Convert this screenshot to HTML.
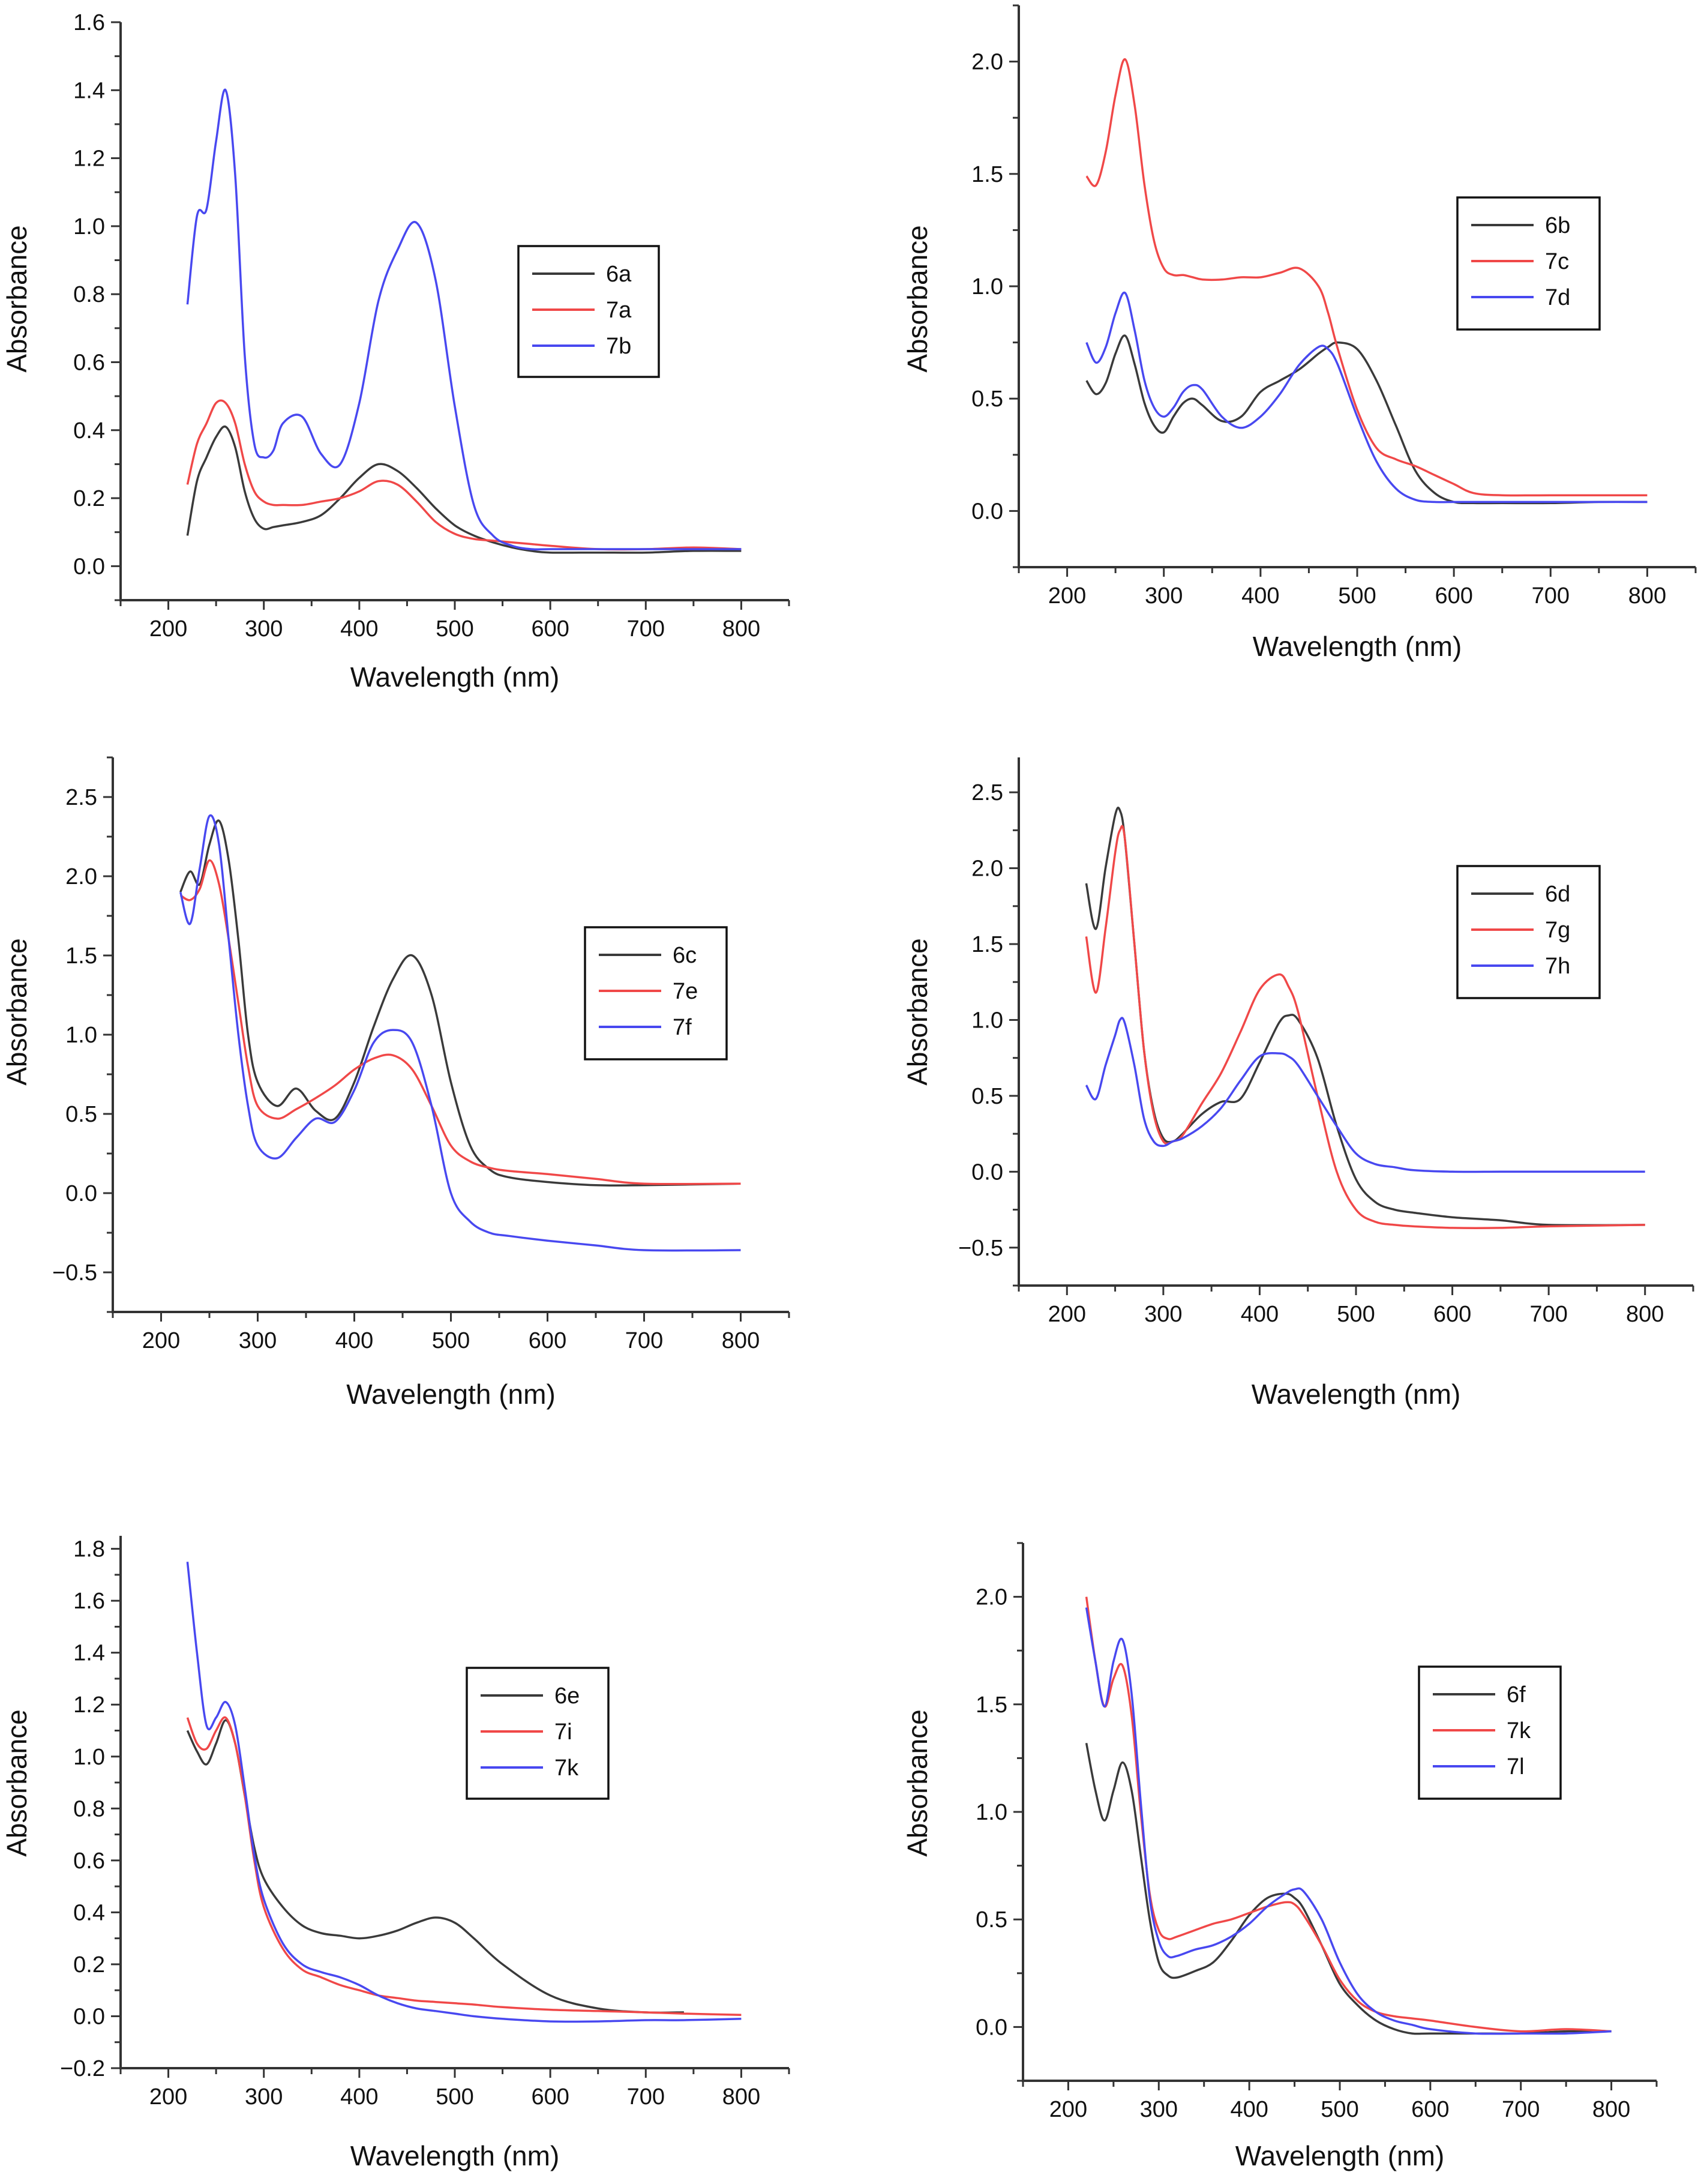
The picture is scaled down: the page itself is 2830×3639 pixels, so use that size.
<!DOCTYPE html>
<html><head><meta charset="utf-8"><style>
html,body{margin:0;padding:0;background:#fff;}
svg{display:block;font-family:"Liberation Sans",Arial,sans-serif;}
</style></head><body>
<svg id="fig" width="2830" height="3639" viewBox="0 0 2830 3639" xmlns="http://www.w3.org/2000/svg"></svg>
<script>
// ---- Panel A data ----
const wlA = [220,230,240,250,260,270,280,290,300,310,320,340,360,380,400,420,440,460,480,500,520,540,560,580,600,650,700,750,800];
const a6a = [0.09,0.25,0.32,0.38,0.41,0.35,0.22,0.14,0.11,0.115,0.12,0.13,0.15,0.2,0.26,0.3,0.28,0.23,0.17,0.12,0.09,0.07,0.055,0.045,0.04,0.04,0.04,0.045,0.045];
const a7a = [0.24,0.36,0.42,0.48,0.48,0.42,0.3,0.22,0.19,0.18,0.18,0.18,0.19,0.2,0.22,0.25,0.24,0.19,0.13,0.095,0.08,0.075,0.07,0.065,0.06,0.05,0.05,0.055,0.05];
const a7b = [0.77,1.03,1.05,1.25,1.40,1.15,0.62,0.36,0.32,0.34,0.42,0.44,0.33,0.30,0.48,0.78,0.93,1.01,0.84,0.47,0.18,0.09,0.06,0.05,0.05,0.05,0.05,0.05,0.05];
// ---- Panel B data ----
const wlB = [220,230,240,250,260,270,280,290,300,310,320,330,340,360,380,400,420,440,460,470,480,500,520,540,560,580,600,620,650,700,750,800];
const b6b = [0.58,0.52,0.57,0.70,0.78,0.65,0.48,0.38,0.35,0.42,0.48,0.50,0.47,0.40,0.42,0.53,0.58,0.63,0.70,0.73,0.75,0.72,0.58,0.38,0.18,0.08,0.04,0.035,0.035,0.035,0.04,0.04];
const b7c = [1.49,1.45,1.60,1.85,2.01,1.80,1.45,1.20,1.08,1.05,1.05,1.04,1.03,1.03,1.04,1.04,1.06,1.08,1.00,0.88,0.72,0.45,0.28,0.23,0.20,0.16,0.12,0.08,0.07,0.07,0.07,0.07];
const b7d = [0.75,0.66,0.73,0.88,0.97,0.80,0.58,0.46,0.42,0.46,0.53,0.56,0.54,0.42,0.37,0.42,0.52,0.65,0.73,0.72,0.65,0.42,0.22,0.1,0.05,0.04,0.04,0.04,0.04,0.04,0.04,0.04];
// ---- Panel C data ----
const wlC = [220,230,240,250,260,270,280,290,300,320,340,360,380,400,420,440,460,480,500,520,540,560,600,650,700,800];
const c6c = [1.9,2.03,1.95,2.2,2.35,2.1,1.6,1.0,0.7,0.55,0.66,0.52,0.47,0.7,1.05,1.35,1.5,1.25,0.7,0.3,0.15,0.1,0.07,0.05,0.05,0.06];
const c7e = [1.88,1.85,1.92,2.1,1.95,1.6,1.2,0.8,0.55,0.47,0.53,0.6,0.68,0.78,0.85,0.87,0.78,0.55,0.3,0.2,0.16,0.14,0.12,0.09,0.06,0.06];
const c7f = [1.9,1.7,2.05,2.38,2.2,1.6,1.0,0.55,0.3,0.22,0.35,0.47,0.45,0.65,0.95,1.03,0.95,0.55,0.0,-0.18,-0.25,-0.27,-0.3,-0.33,-0.36,-0.36];
// ---- Panel D data ----
const wlD = [220,230,240,250,255,260,270,280,290,300,310,320,340,360,380,400,420,430,440,460,480,500,520,540,560,600,650,700,800];
const d6d = [1.9,1.6,2.0,2.35,2.38,2.2,1.5,0.8,0.4,0.22,0.2,0.25,0.38,0.46,0.48,0.72,0.98,1.03,1.0,0.75,0.3,-0.05,-0.2,-0.25,-0.27,-0.3,-0.32,-0.35,-0.35];
const d7g = [1.55,1.18,1.6,2.1,2.25,2.2,1.5,0.8,0.38,0.2,0.2,0.24,0.45,0.65,0.92,1.2,1.3,1.22,1.05,0.5,0.0,-0.25,-0.33,-0.35,-0.36,-0.37,-0.37,-0.36,-0.35];
const d7h = [0.57,0.48,0.7,0.9,1.0,0.98,0.7,0.35,0.2,0.17,0.2,0.22,0.3,0.42,0.6,0.76,0.78,0.76,0.7,0.5,0.3,0.12,0.05,0.03,0.01,0.0,0.0,0.0,0.0];
// ---- Panel E data ----
const wlE = [220,230,240,250,260,270,280,290,300,320,340,360,380,400,420,440,460,480,500,520,550,600,650,700,740,800];
const e6e = [1.10,1.02,0.97,1.05,1.14,1.05,0.85,0.65,0.53,0.42,0.35,0.32,0.31,0.30,0.31,0.33,0.36,0.38,0.36,0.30,0.20,0.08,0.03,0.015,0.015,null];
const e7i = [1.15,1.05,1.03,1.10,1.15,1.05,0.85,0.6,0.42,0.26,0.18,0.15,0.12,0.10,0.08,0.07,0.06,0.055,0.05,0.045,0.035,0.025,0.02,0.015,0.01,0.005];
const e7k = [1.75,1.4,1.12,1.15,1.21,1.12,0.88,0.62,0.45,0.28,0.2,0.17,0.15,0.12,0.08,0.05,0.03,0.02,0.01,0.0,-0.01,-0.02,-0.02,-0.015,-0.015,-0.01];
// ---- Panel F data ----
const wlF = [220,230,240,250,260,270,280,290,300,310,320,340,360,380,400,420,440,450,460,480,500,520,540,560,580,600,650,700,750,800];
const f6f = [1.32,1.1,0.96,1.1,1.23,1.1,0.8,0.5,0.3,0.24,0.23,0.26,0.3,0.4,0.52,0.6,0.62,0.6,0.55,0.38,0.2,0.1,0.03,-0.01,-0.03,-0.03,-0.03,-0.03,-0.02,-0.02];
const f7k = [2.0,1.7,1.49,1.62,1.68,1.45,1.0,0.62,0.45,0.41,0.42,0.45,0.48,0.5,0.53,0.56,0.58,0.57,0.52,0.38,0.22,0.12,0.07,0.05,0.04,0.03,0.0,-0.02,-0.01,-0.02];
const f7l = [1.95,1.7,1.49,1.7,1.80,1.55,1.05,0.6,0.4,0.33,0.33,0.36,0.38,0.42,0.48,0.56,0.62,0.64,0.63,0.5,0.3,0.15,0.07,0.03,0.01,-0.01,-0.03,-0.03,-0.03,-0.02];
const xTickLabels = [200,300,400,500,600,700,800];

const NS="http://www.w3.org/2000/svg";
const svg=document.getElementById('fig');
const BLK="#3a3a3a", RED="#f04848", BLU="#4848f0";
function mk(tag,attrs,parent){const e=document.createElementNS(NS,tag);for(const k in attrs)e.setAttribute(k,attrs[k]);(parent||svg).appendChild(e);return e;}

const panels=[
 {id:'a',L:201,R:1315,T:37,B:1000,ymin:-0.1,ymax:1.6,yt:[0,0.2,0.4,0.6,0.8,1.0,1.2,1.4,1.6],ym:0.1,xt:1128,yx:28,wl:wlA,series:[['6a',a6a,BLK],['7a',a7a,RED],['7b',a7b,BLU]],lg:[864,410,234,218]},
 {id:'b',L:1698,R:2826,T:9,B:945,ymin:-0.25,ymax:2.25,yt:[0,0.5,1.0,1.5,2.0],ym:0.25,xt:1077,yx:1529,wl:wlB,series:[['6b',b6b,BLK],['7c',b7c,RED],['7d',b7d,BLU]],lg:[2429,329,237,220]},
 {id:'c',L:188,R:1315,T:1262,B:2186,ymin:-0.75,ymax:2.75,yt:[-0.5,0,0.5,1.0,1.5,2.0,2.5],ym:0.25,xt:2323,yx:28,wl:wlC,series:[['6c',c6c,BLK],['7e',c7e,RED],['7f',c7f,BLU]],lg:[975,1545,236,220]},
 {id:'d',L:1698,R:2822,T:1262,B:2142,ymin:-0.75,ymax:2.73,yt:[-0.5,0,0.5,1.0,1.5,2.0,2.5],ym:0.25,xt:2323,yx:1529,wl:wlD,series:[['6d',d6d,BLK],['7g',d7g,RED],['7h',d7h,BLU]],lg:[2429,1443,237,220]},
 {id:'e',L:201,R:1315,T:2559,B:3446,ymin:-0.2,ymax:1.85,yt:[-0.2,0,0.2,0.4,0.6,0.8,1.0,1.2,1.4,1.6,1.8],ym:0.1,xt:3592,yx:28,wl:wlE,series:[['6e',e6e,BLK],['7i',e7i,RED],['7k',e7k,BLU]],lg:[778,2779,236,218]},
 {id:'f',L:1705,R:2761,T:2571,B:3467,ymin:-0.25,ymax:2.25,yt:[0,0.5,1.0,1.5,2.0],ym:0.25,xt:3592,yx:1529,wl:wlF,series:[['6f',f6f,BLK],['7k',f7k,RED],['7l',f7l,BLU]],lg:[2365,2777,236,220]}
];

function fmtY(v){return v<0?'\u2212'+Math.abs(v).toFixed(1):v.toFixed(1);}

function smoothPath(pts){
  let d='M'+pts[0][0].toFixed(1)+','+pts[0][1].toFixed(1);
  for(let i=0;i<pts.length-1;i++){
    const p0=pts[i-1]||pts[i],p1=pts[i],p2=pts[i+1],p3=pts[i+2]||p2;
    const c1=[p1[0]+(p2[0]-p0[0])/6,p1[1]+(p2[1]-p0[1])/6];
    const c2=[p2[0]-(p3[0]-p1[0])/6,p2[1]-(p3[1]-p1[1])/6];
    d+=' C'+c1[0].toFixed(1)+','+c1[1].toFixed(1)+' '+c2[0].toFixed(1)+','+c2[1].toFixed(1)+' '+p2[0].toFixed(1)+','+p2[1].toFixed(1);
  }
  return d;
}

panels.forEach(p=>{
  const g=mk('g',{});
  
  
  const X=w=>p.L+(w-150)/(850-150)*(p.R-p.L);
  const Y=v=>p.B-(v-p.ymin)/(p.ymax-p.ymin)*(p.B-p.T);
  const ax=mk('path',{d:`M${p.L},${p.T} L${p.L},${p.B} L${p.R},${p.B}`,fill:'none',stroke:'#333','stroke-width':4},g);
  
  
  for(let w=150;w<=850;w+=50){
    const maj=(w%100===0)&&w>=200&&w<=800;
    mk('line',{x1:X(w),x2:X(w),y1:p.B,y2:p.B+(maj?16:10),stroke:'#333','stroke-width':3},g);
  }
  xTickLabels.forEach(w=>{
    const t=mk('text',{x:X(w),y:p.B+60,'text-anchor':'middle','font-size':38,fill:'#111'},g);
    t.textContent=w;
    
    
  });
  const n=Math.round((p.ymax-p.ymin)/p.ym);
  for(let i=0;i<=n+1;i++){
    const v=Math.ceil(p.ymin/p.ym)*p.ym+i*p.ym;
    if(v>p.ymax+1e-6)break;
    const maj=p.yt.some(t=>Math.abs(t-v)<1e-6);
    mk('line',{x1:p.L,x2:p.L-(maj?16:10),y1:Y(v),y2:Y(v),stroke:'#333','stroke-width':3},g);
  }
  p.yt.forEach(v=>{
    const t=mk('text',{x:p.L-26,y:Y(v)+13,'text-anchor':'end','font-size':38,fill:'#111'},g);
    t.textContent=fmtY(v);
    
    
  });
  const xt=mk('text',{x:(p.L+p.R)/2,y:p.xt+16,'text-anchor':'middle','font-size':46,fill:'#111'},g);
  xt.textContent='Wavelength (nm)';
  
  
  const ycy=(p.id==='a'||p.id==='b')?498:(p.id==='c'||p.id==='d')?1686:2971;
  const yt=mk('text',{x:p.yx+16,y:ycy,'text-anchor':'middle','font-size':46,fill:'#111',transform:`rotate(-90 ${p.yx+16} ${ycy})`},g);
  yt.textContent='Absorbance';
  
  
  p.series.forEach(s=>{
    const pts=[];
    p.wl.forEach((w,i)=>{if(s[1][i]!==null)pts.push([X(w),Y(s[1][i])]);});
    const path=mk('path',{d:smoothPath(pts),fill:'none',stroke:s[2],'stroke-width':3.5,'stroke-linejoin':'round'},g);
    
    
  });
  const [lx,ly,lw,lh]=p.lg;
  const lgG=mk('g',{},g);
  
  
  mk('rect',{x:lx,y:ly,width:lw,height:lh,fill:'#fff',stroke:'#111','stroke-width':3.5},lgG);
  p.series.forEach((s,i)=>{
    const ry=ly+46+i*60;
    const e=mk('g',{},lgG);
    
    
    mk('line',{x1:lx+23,x2:lx+127,y1:ry,y2:ry,stroke:s[2],'stroke-width':4},e);
    const t=mk('text',{x:lx+146,y:ry+13,'font-size':38,fill:'#111'},e);
    t.textContent=s[0];
  });
});
</script>
</body></html>
